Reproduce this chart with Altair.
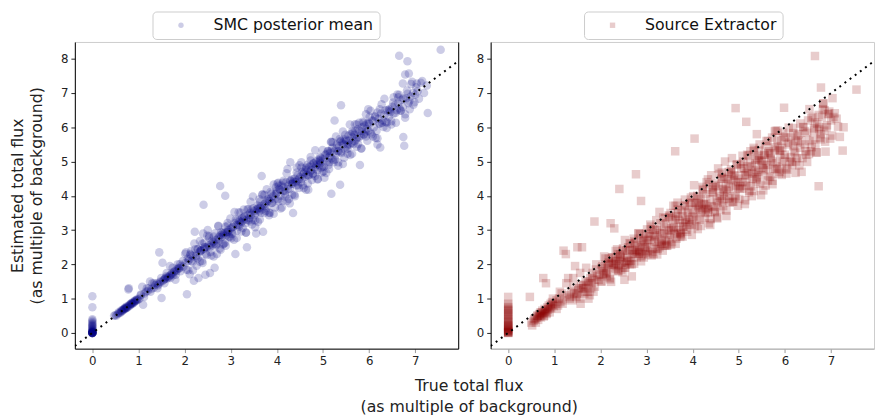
import altair as alt
import pandas as pd

# ---- data (true flux, SMC estimate, SExtractor estimate) ----
true_zero = [0.0, 0.0, 0.0, 0.0, 0.0, 0.0, 0.0, 0.0, 0.0, 0.0,
             0.0, 0.0, 0.0, 0.0, 0.0, 0.0, 0.0, 0.0, 0.0, 0.0,
             0.0, 0.0, 0.0, 0.0, 0.0, 0.0, 0.0, 0.0, 0.0, 0.0]
smc_zero = [0.0, 0.0, 0.0, 0.0, 0.0, 0.0, 0.01, 0.02, 0.03, 0.05,
            0.0, 0.02, 0.04, 0.06, 0.08, 0.1, 0.12, 0.15, 0.18, 0.2,
            0.22, 0.25, 0.28, 0.32, 0.36, 0.4, 0.0, 0.01, 0.75, 1.07]
sex_zero = [0.0, 0.0, 0.01, 0.02, 0.03, 0.05, 0.06, 0.08, 0.1, 0.12,
            0.15, 0.18, 0.2, 0.22, 0.25, 0.3, 0.33, 0.36, 0.4, 0.45,
            0.5, 0.54, 0.58, 0.62, 0.66, 0.7, 0.75, 0.8, 0.85, 1.05]

true_a = [0.47, 0.5, 0.52, 0.55, 0.57, 0.6, 0.62, 0.63, 0.65, 0.67,
          0.68, 0.7, 0.71, 0.72, 0.74, 0.75, 0.76, 0.78, 0.79, 0.8,
          0.82, 0.83, 0.85, 0.86, 0.88, 0.9, 0.92, 0.93, 0.95, 0.97,
          0.99, 0.58, 0.64, 0.69, 0.73, 0.77, 0.81, 0.84, 0.87, 0.91, 0.96]
smc_a = [0.5, 0.52, 0.5, 0.55, 0.6, 0.58, 0.65, 0.62, 0.67, 0.66,
         0.7, 0.72, 0.7, 0.75, 0.73, 0.78, 0.74, 1.27, 1.3, 0.82,
         0.8, 0.85, 0.87, 0.84, 0.9, 0.88, 0.93, 0.95, 0.94, 0.99,
         0.97, 0.58, 0.64, 0.7, 0.73, 0.76, 0.81, 0.85, 0.86, 0.9, 0.95]
sex_a = [1.05, 0.3, 0.22, 0.35, 0.4, 0.3, 0.45, 0.5, 0.38, 0.55,
         0.48, 0.6, 0.45, 0.52, 0.65, 0.58, 1.6, 0.5, 0.7, 0.62,
         1.45, 0.55, 0.75, 0.68, 0.8, 0.6, 0.85, 0.72, 0.9, 1.0,
         0.78, 0.42, 0.5, 0.55, 0.6, 0.48, 0.65, 0.58, 0.7, 0.75, 0.82]

true_b = [1.02, 1.05, 1.08, 1.1, 1.13, 1.16, 1.2, 1.22, 1.25, 1.28,
          1.3, 1.33, 1.36, 1.4, 1.42, 1.45, 1.47, 1.5, 1.52, 1.55,
          1.58, 1.6, 1.62, 1.65, 1.68, 1.7, 1.72, 1.75, 1.78, 1.8,
          1.83, 1.86, 1.9, 1.93, 1.97, 1.43, 1.48, 1.53, 1.57, 1.63,
          1.67, 1.73, 1.77, 1.82, 1.88]
smc_b = [1.0, 1.12, 1.35, 0.82, 1.15, 1.2, 1.22, 1.3, 1.5, 1.28,
         1.45, 1.32, 1.4, 1.45, 1.38, 2.35, 1.5, 1.02, 2.05, 1.55,
         1.6, 1.65, 1.58, 1.62, 1.95, 1.7, 1.75, 1.68, 1.8, 1.55,
         1.85, 1.9, 2.0, 1.95, 1.93, 1.42, 1.48, 1.52, 1.57, 1.63,
         1.66, 1.72, 1.78, 1.8, 1.88]
sex_b = [0.85, 0.95, 0.8, 1.0, 0.9, 1.15, 2.4, 0.95, 2.3, 1.1,
         1.6, 1.05, 1.2, 0.95, 1.35, 1.95, 1.1, 2.5, 1.25, 1.0,
         1.4, 2.5, 1.3, 1.15, 1.5, 1.35, 1.2, 1.45, 1.6, 1.3,
         1.75, 1.55, 1.85, 1.65, 1.7, 1.15, 1.05, 1.3, 0.85, 1.4,
         1.2, 1.5, 1.1, 1.6, 1.35]

true_c = [2.02, 2.05, 2.08, 2.1, 2.12, 2.15, 2.18, 2.2, 2.22, 2.25,
          2.28, 2.3, 2.32, 2.35, 2.38, 2.4, 2.42, 2.45, 2.48, 2.5,
          2.52, 2.55, 2.58, 2.6, 2.62, 2.65, 2.68, 2.7, 2.72, 2.75,
          2.78, 2.8, 2.82, 2.85, 2.88, 2.9, 2.92, 2.95, 2.97, 1.87,
          2.24, 2.34, 2.44, 2.54, 2.64, 2.74, 2.84, 2.94]
smc_c = [2.05, 1.13, 2.1, 2.15, 2.3, 2.1, 2.25, 1.52, 2.95, 2.25,
         2.45, 1.6, 2.35, 2.4, 2.6, 2.9, 2.45, 1.7, 2.5, 3.0,
         2.55, 1.75, 2.6, 2.55, 2.65, 1.9, 2.7, 2.3, 2.75, 2.7,
         2.85, 2.8, 2.9, 2.6, 3.1, 2.85, 2.95, 3.0, 2.9, 1.88,
         2.2, 2.4, 2.5, 2.5, 2.6, 2.8, 2.85, 2.95]
sex_c = [1.9, 1.7, 1.8, 2.0, 1.75, 1.9, 2.05, 1.6, 3.2, 2.2,
         1.85, 3.05, 2.1, 1.95, 2.3, 2.0, 2.15, 1.85, 2.4, 2.1,
         1.55, 2.0, 2.25, 2.5, 2.1, 2.6, 1.65, 2.3, 2.75, 2.4,
         2.2, 2.55, 2.9, 2.35, 2.5, 2.65, 2.3, 2.7, 2.45, 3.25,
         2.0, 2.1, 2.2, 1.9, 2.0, 2.3, 2.4, 2.2]

true_d = [3.0, 3.02, 3.05, 3.08, 3.1, 3.12, 3.15, 3.18, 3.2, 3.22,
          3.25, 3.28, 3.3, 3.32, 3.35, 3.38, 3.4, 3.42, 3.45, 3.48,
          3.5, 3.52, 3.55, 3.58, 3.6, 3.62, 3.65, 3.68, 3.7, 3.72,
          3.75, 3.78, 3.8, 3.82, 3.85, 3.88, 3.9, 3.92, 3.95, 3.98,
          2.41, 2.77, 2.88, 3.16, 3.24, 3.34, 3.44, 3.54, 3.64, 3.74, 3.84]
smc_d = [3.05, 2.95, 3.1, 3.2, 2.3, 3.15, 3.3, 3.1, 3.25, 3.2,
         3.35, 3.3, 3.4, 3.2, 2.5, 3.45, 3.35, 3.5, 3.6, 3.3,
         3.55, 3.45, 2.9, 3.6, 3.65, 3.55, 3.7, 3.6, 2.95, 3.75,
         3.8, 3.65, 3.85, 3.9, 3.5, 3.95, 3.8, 4.0, 3.9, 4.05,
         3.74, 4.29, 4.0, 3.15, 3.25, 3.3, 3.45, 3.5, 3.65, 3.7, 3.85]
sex_d = [2.6, 2.4, 2.9, 2.5, 3.1, 2.7, 2.3, 2.85, 2.45, 3.0,
         2.75, 2.5, 3.2, 2.6, 2.4, 2.9, 3.35, 2.7, 2.55, 3.0,
         2.8, 3.5, 2.65, 3.1, 2.9, 3.3, 2.75, 3.6, 3.0, 3.2,
         2.85, 3.4, 3.1, 3.7, 3.25, 2.95, 3.5, 3.3, 3.8, 3.15,
         4.2, 4.63, 3.85, 2.8, 2.45, 2.95, 2.6, 3.05, 3.4, 2.9, 3.3]

true_e = [4.0, 4.02, 4.05, 4.08, 4.1, 4.12, 4.15, 4.18, 4.2, 4.22,
          4.25, 4.28, 4.3, 4.32, 4.35, 4.38, 4.4, 4.42, 4.45, 4.48,
          4.5, 4.52, 4.55, 4.58, 4.6, 4.62, 4.65, 4.68, 4.7, 4.72,
          4.75, 4.78, 4.8, 4.82, 4.85, 4.88, 4.9, 4.92, 4.95, 4.98,
          4.29, 4.67, 3.67, 4.04, 3.62, 4.14, 4.24, 4.34, 4.44, 4.54,
          4.64, 4.74, 4.84, 4.94]
smc_e = [4.1, 3.9, 4.2, 4.0, 4.3, 3.85, 4.25, 4.15, 4.4, 3.85,
         4.3, 4.2, 4.45, 4.35, 3.5, 4.5, 4.4, 4.3, 4.6, 4.5,
         4.55, 4.4, 4.7, 4.65, 4.55, 4.75, 4.8, 4.6, 4.85, 4.7,
         4.9, 4.65, 4.95, 4.8, 5.0, 4.75, 5.05, 4.9, 5.1, 4.85,
         4.98, 4.36, 4.58, 4.3, 3.9, 4.15, 4.2, 4.35, 4.45, 4.5,
         4.6, 4.75, 4.85, 4.95]
sex_e = [3.6, 3.4, 3.8, 3.5, 4.0, 3.7, 3.3, 3.9, 3.6, 4.2,
         3.75, 3.5, 4.4, 3.65, 3.2, 3.9, 4.6, 3.7, 4.1, 3.55,
         4.3, 3.85, 4.8, 4.0, 3.6, 4.5, 4.2, 3.9, 5.0, 4.35,
         4.0, 4.7, 3.8, 4.45, 5.1, 4.2, 4.6, 3.95, 4.9, 4.4,
         4.05, 4.1, 3.8, 5.67, 5.3, 3.65, 3.75, 3.6, 4.25, 3.8,
         4.55, 4.15, 4.65, 4.3]

true_f = [5.0, 5.02, 5.05, 5.08, 5.1, 5.12, 5.15, 5.18, 5.2, 5.22,
          5.25, 5.28, 5.3, 5.32, 5.35, 5.38, 5.4, 5.42, 5.45, 5.48,
          5.5, 5.52, 5.55, 5.58, 5.6, 5.62, 5.65, 5.68, 5.7, 5.72,
          5.75, 5.78, 5.8, 5.82, 5.85, 5.88, 5.9, 5.92, 5.95, 5.98,
          5.18, 5.37, 5.39, 4.93, 5.16, 5.14, 5.24, 5.34, 5.44, 5.54,
          5.64, 5.74, 5.84, 5.94]
smc_f = [5.1, 4.85, 5.2, 5.0, 5.3, 4.9, 5.25, 5.1, 5.4, 5.05,
         6.2, 5.2, 5.5, 5.3, 5.45, 5.6, 5.25, 5.55, 5.65, 5.35,
         5.6, 5.45, 5.75, 5.5, 5.8, 5.55, 5.85, 5.6, 5.9, 5.65,
         5.95, 5.7, 4.9, 5.75, 6.0, 5.8, 6.05, 5.85, 6.1, 5.9,
         4.06, 4.32, 6.64, 5.0, 5.3, 5.15, 5.3, 5.3, 5.5, 5.5,
         5.7, 5.7, 5.9, 5.95]
sex_f = [4.5, 4.2, 4.8, 4.4, 5.0, 4.6, 4.3, 5.2, 4.7, 4.1,
         5.3, 4.85, 4.5, 5.4, 4.9, 4.4, 5.1, 4.7, 5.5, 4.6,
         5.0, 4.8, 5.2, 4.3, 5.6, 4.9, 5.3, 4.55, 5.1, 5.7,
         4.8, 5.35, 5.9, 4.95, 5.45, 4.7, 5.2, 5.6, 5.0, 6.57,
         4.4, 4.75, 5.8, 6.56, 6.16, 4.6, 4.95, 4.65, 5.05, 4.75,
         5.25, 5.0, 5.9, 5.4]

true_g = [6.0, 6.03, 6.06, 6.1, 6.13, 6.16, 6.2, 6.23, 6.26, 6.3,
          6.33, 6.36, 6.4, 6.43, 6.46, 6.5, 6.53, 6.56, 6.6, 6.63,
          6.66, 6.7, 6.73, 6.76, 6.8, 6.85, 6.9, 6.95, 7.0, 7.05,
          7.12, 7.19, 7.25, 7.27, 7.55, 6.65, 6.83, 6.78, 6.86, 6.24,
          6.74, 6.18, 7.03]
smc_g = [6.1, 5.85, 6.2, 6.0, 6.3, 5.9, 6.25, 6.1, 6.4, 6.2,
         6.35, 6.15, 6.5, 6.3, 6.45, 6.6, 6.4, 6.65, 6.5, 6.7,
         6.55, 6.8, 6.6, 5.46, 6.85, 6.7, 6.9, 7.0, 6.95, 7.05,
         7.3, 7.0, 7.22, 6.42, 8.26, 8.09, 7.93, 7.54, 7.57, 5.41,
         5.72, 5.5, 7.28]
sex_g = [5.2, 4.8, 5.5, 5.0, 5.7, 4.9, 5.3, 5.6, 5.1, 5.8,
         5.4, 4.7, 6.0, 5.5, 5.2, 6.2, 5.6, 5.3, 6.3, 5.9,
         5.5, 6.1, 4.28, 5.7, 6.3, 5.9, 6.0, 6.4, 6.2, 6.3,
         6.25, 5.72, 5.32, 6.0, 7.1, 8.08, 6.7, 7.16, 6.5, 5.0,
         5.95, 5.45, 6.85]

# sources lying further from the diagonal (the halo around the dense band)
true_hb = [1.05, 1.12, 1.18, 1.26, 1.34, 1.41, 1.49, 1.56, 1.61, 1.69,
           1.74, 1.81, 1.85, 1.91, 1.96]
smc_hb = [1.1, 1.05, 1.3, 1.2, 1.45, 1.3, 1.6, 1.45, 1.75, 1.6,
          1.9, 1.7, 2.0, 1.8, 2.1]
sex_hb = [0.7, 1.2, 0.85, 1.45, 1.0, 1.6, 1.15, 1.75, 1.3, 1.9,
          1.0, 1.45, 1.2, 2.0, 1.55]

true_hc = [2.01, 2.04, 2.07, 2.11, 2.14, 2.17, 2.21, 2.26, 2.29, 2.33,
           2.36, 2.39, 2.43, 2.46, 2.49, 2.53, 2.56, 2.59, 2.63, 2.66,
           2.69, 2.73, 2.76, 2.79, 2.83, 2.86, 2.89, 2.93, 2.96, 2.99]
smc_hc = [2.31, 1.84, 2.17, 1.71, 2.39, 2.07, 2.61, 1.96, 2.44, 2.08,
          2.41, 2.04, 2.63, 2.31, 2.84, 2.83, 2.36, 2.69, 2.23, 2.91,
          2.59, 3.13, 2.46, 2.94, 2.58, 2.91, 2.54, 3.13, 2.81, 3.34]
sex_hc = [1.5, 1.95, 1.74, 2.17, 1.65, 1.98, 1.56, 2.21, 1.99, 1.88,
          2.44, 1.81, 2.23, 2.05, 2.47, 1.9, 2.41, 2.19, 2.62, 2.1,
          2.43, 2.02, 2.64, 2.43, 2.31, 2.88, 2.24, 2.67, 2.49, 2.9]

true_hd = [3.01, 3.04, 3.07, 3.11, 3.14, 3.17, 3.21, 3.26, 3.29, 3.33,
           3.36, 3.39, 3.43, 3.46, 3.49, 3.53, 3.56, 3.59, 3.63, 3.66,
           3.69, 3.73, 3.76, 3.79, 3.83, 3.86, 3.89, 3.93, 3.96, 3.99]
smc_hd = [2.76, 3.09, 2.72, 3.31, 2.99, 3.52, 3.51, 3.06, 3.39, 2.93,
          3.61, 3.29, 3.83, 3.16, 3.64, 3.28, 3.61, 3.24, 3.83, 3.51,
          4.04, 4.03, 3.56, 3.89, 3.43, 4.11, 3.79, 4.33, 3.66, 4.14]
sex_hd = [3.02, 2.29, 2.82, 2.26, 3.03, 2.66, 3.29, 2.54, 2.91, 2.7,
          3.37, 2.55, 3.18, 2.86, 3.39, 2.57, 3.35, 3.07, 3.71, 2.88,
          3.31, 2.8, 3.57, 3.1, 3.73, 3.01, 3.53, 3.17, 3.95, 3.37]

true_he = [4.01, 4.04, 4.07, 4.11, 4.14, 4.17, 4.21, 4.26, 4.29, 4.33,
           4.36, 4.39, 4.43, 4.46, 4.49, 4.53, 4.56, 4.59, 4.63, 4.66,
           4.69, 4.73, 4.76, 4.79, 4.83, 4.86, 4.89, 4.93, 4.96, 4.99]
smc_he = [4.36, 3.84, 4.17, 3.66, 4.44, 4.07, 4.66, 3.91, 4.44, 4.03,
          4.41, 3.99, 4.68, 4.31, 4.89, 4.83, 4.31, 4.69, 4.18, 4.91,
          4.59, 5.13, 4.46, 4.94, 4.58, 4.91, 4.49, 5.13, 4.81, 5.34]
sex_he = [3.99, 3.11, 3.74, 3.03, 3.95, 3.53, 4.26, 3.36, 3.78, 3.52,
          4.34, 3.32, 4.1, 3.68, 4.36, 3.34, 4.27, 3.94, 4.68, 3.7,
          4.18, 3.57, 4.49, 3.92, 4.7, 3.83, 4.45, 3.99, 4.92, 4.24]

true_hf = [5.01, 5.04, 5.07, 5.11, 5.14, 5.17, 5.21, 5.26, 5.29, 5.33,
           5.36, 5.39, 5.43, 5.46, 5.49, 5.53, 5.56, 5.59, 5.63, 5.66,
           5.69, 5.73, 5.76, 5.79, 5.83, 5.86, 5.89, 5.93, 5.96, 5.99]
smc_hf = [4.71, 5.09, 4.67, 5.31, 4.99, 5.57, 5.56, 5.06, 5.39, 4.88,
          5.66, 5.29, 5.88, 5.11, 5.64, 5.23, 5.61, 5.19, 5.88, 5.51,
          6.09, 6.08, 5.51, 5.89, 5.38, 6.16, 5.79, 6.38, 5.61, 6.14]
sex_hf = [3.91, 4.93, 4.21, 4.8, 3.87, 4.65, 5.18, 4.28, 4.65, 4.14,
          5.06, 4.54, 5.32, 4.35, 5.03, 4.16, 5.19, 4.81, 5.6, 4.57,
          5.05, 4.44, 5.41, 4.79, 5.62, 4.65, 5.32, 4.86, 5.84, 5.11]

true_hg = [6.01, 6.05, 6.09, 6.14, 6.18, 6.22, 6.27, 6.31, 6.35, 6.39,
           6.44, 6.48, 6.52, 6.57, 6.61, 6.65, 6.69, 6.74, 6.78, 6.82,
           6.87, 6.91, 6.96, 7.02, 7.08, 7.15]
smc_hg = [6.31, 5.8, 6.19, 5.69, 6.43, 6.12, 6.67, 6.01, 6.5, 6.14,
          6.49, 6.08, 6.72, 6.42, 6.96, 6.95, 6.49, 6.84, 6.38, 7.07,
          6.77, 7.26, 6.66, 7.17, 6.83, 7.35]
sex_hg = [5.73, 4.76, 5.55, 4.99, 5.98, 5.26, 5.75, 4.89, 5.62, 6.01,
          5.3, 5.84, 5.22, 6.27, 5.65, 6.14, 5.27, 6.01, 5.65, 6.53,
          5.58, 6.06, 6.46, 5.76, 6.41, 6.02]

# outer halo: the widest scatter seen in both panels
true_oc = [2.03, 2.08, 2.13, 2.18, 2.23, 2.28, 2.33, 2.38, 2.43, 2.48,
           2.53, 2.58, 2.63, 2.68, 2.73, 2.78, 2.83, 2.88, 2.93, 2.98]
smc_oc = [2.35, 1.83, 2.27, 1.83, 2.44, 2.18, 2.68, 2.1, 2.5, 2.27,
          2.78, 2.26, 2.81, 2.54, 3.11, 2.43, 2.93, 2.63, 3.21, 2.8]
sex_oc = [1.5, 2.23, 1.73, 2.17, 1.49, 2.04, 2.39, 1.8, 2.29, 1.77,
          2.71, 2.06, 2.41, 2.0, 2.68, 2.36, 2.91, 2.09, 2.76, 2.35]

true_od = [3.03, 3.08, 3.13, 3.18, 3.23, 3.28, 3.33, 3.38, 3.43, 3.48,
           3.53, 3.58, 3.63, 3.68, 3.73, 3.78, 3.83, 3.88, 3.93, 3.98]
smc_od = [2.89, 3.53, 2.77, 3.27, 2.96, 3.6, 2.92, 3.61, 3.25, 3.98,
          3.08, 3.72, 3.31, 4.04, 3.5, 4.19, 3.51, 4.06, 3.48, 4.25]
sex_od = [2.72, 3.16, 2.36, 3.01, 2.29, 3.53, 2.66, 3.1, 2.54, 3.43,
          2.99, 3.71, 2.6, 3.48, 2.93, 2.81, 3.89, 3.22, 3.78, 2.86]

true_oe = [4.03, 4.08, 4.13, 4.18, 4.23, 4.28, 4.33, 4.38, 4.43, 4.48,
           4.53, 4.58, 4.63, 4.68, 4.73, 4.78, 4.83, 4.88, 4.93, 4.98]
smc_oe = [4.38, 3.63, 4.38, 3.98, 4.78, 3.78, 4.48, 4.03, 4.83, 4.23,
          4.98, 4.23, 4.83, 4.18, 5.03, 4.63, 5.33, 4.48, 5.03, 4.68]
sex_oe = [4.31, 3.27, 3.78, 3.12, 4.16, 3.62, 4.48, 3.15, 4.18, 3.52,
          3.37, 4.64, 3.84, 4.5, 3.41, 4.26, 4.77, 3.82, 4.58, 3.71]

true_of = [5.03, 5.08, 5.13, 5.18, 5.23, 5.28, 5.33, 5.38, 5.43, 5.48,
           5.53, 5.58, 5.63, 5.68, 5.73, 5.78, 5.83, 5.88, 5.93, 5.98]
smc_of = [4.53, 5.23, 4.78, 5.58, 4.98, 5.73, 4.98, 5.58, 4.93, 5.78,
          5.38, 6.08, 5.23, 5.78, 5.43, 6.13, 5.38, 6.13, 5.73, 6.53]
sex_of = [4.28, 5.17, 3.76, 4.86, 4.15, 3.99, 5.34, 4.48, 5.17, 4.02,
          4.91, 5.45, 4.45, 5.24, 4.34, 5.88, 4.77, 5.32, 4.61, 5.7]

true_og = [6.03, 6.08, 6.13, 6.18, 6.23, 6.28, 6.33, 6.38, 6.43, 6.48,
           6.53, 6.58, 6.63, 6.68, 6.73, 6.78, 6.83, 6.88, 6.93, 6.98]
smc_og = [6.48, 5.73, 6.33, 5.68, 6.53, 6.13, 6.83, 5.98, 6.53, 6.18,
          6.88, 6.13, 6.88, 6.48, 7.28, 6.28, 6.98, 6.53, 7.33, 6.73]
sex_og = [4.65, 5.99, 5.13, 5.83, 4.67, 5.56, 6.11, 5.1, 5.89, 4.99,
          6.53, 5.42, 5.97, 5.26, 6.36, 5.8, 6.69, 5.29, 6.38, 5.67]

x_ticks = [0, 1, 2, 3, 4, 5, 6, 7]
y_ticks = [0, 1, 2, 3, 4, 5, 6, 7, 8]
x_domain = [-0.38, 7.93]
y_domain = [-0.46, 8.49]

true_flux = (true_zero + true_a + true_b + true_c + true_d + true_e + true_f + true_g
             + true_hb + true_hc + true_hd + true_he + true_hf + true_hg
             + true_oc + true_od + true_oe + true_of + true_og)
smc_est = (smc_zero + smc_a + smc_b + smc_c + smc_d + smc_e + smc_f + smc_g
           + smc_hb + smc_hc + smc_hd + smc_he + smc_hf + smc_hg
           + smc_oc + smc_od + smc_oe + smc_of + smc_og)
sex_est = (sex_zero + sex_a + sex_b + sex_c + sex_d + sex_e + sex_f + sex_g
           + sex_hb + sex_hc + sex_hd + sex_he + sex_hf + sex_hg
           + sex_oc + sex_od + sex_oe + sex_of + sex_og)

df = pd.DataFrame({"true": true_flux, "smc": smc_est, "sex": sex_est})
line_df = pd.DataFrame({"x": x_domain, "y": x_domain})

FONT = "DejaVu Sans"
xs = alt.Scale(domain=x_domain, nice=False, zero=False)
ys = alt.Scale(domain=y_domain, nice=False, zero=False)

Y_AXIS_KW = dict(values=y_ticks, grid=False, labelFontSize=12, labelFont=FONT,
                 labelColor="#222222", tickSize=4, tickColor="#222222",
                 labelPadding=3, domainColor="#000000")


def panel(field, label, color, shape, legend_x, domain_color, y_title):
    data = df.assign(series=label)
    if y_title:
        yaxis = alt.Axis(title=y_title, titleFontSize=16, titleFont=FONT,
                         titleFontWeight="normal", titleColor="#222222",
                         titlePadding=16, titleLineHeight=20, **Y_AXIS_KW)
    else:
        yaxis = alt.Axis(title=None, **Y_AXIS_KW)
    pts = alt.Chart(data).mark_point(
        filled=True, shape=shape, size=75, opacity=0.2, strokeWidth=0
    ).encode(
        x=alt.X("true:Q", scale=xs,
                axis=alt.Axis(values=x_ticks, grid=False, title=None, labelFontSize=12,
                              labelFont=FONT, labelColor="#222222", tickSize=4,
                              tickColor="#999999", labelPadding=3,
                              domainColor=domain_color)),
        y=alt.Y(field + ":Q", scale=ys, axis=yaxis),
        color=alt.Color("series:N", scale=alt.Scale(domain=[label], range=[color]),
                        legend=alt.Legend(title=None, orient="none", legendX=legend_x,
                                          legendY=-31, symbolType=shape, symbolSize=30,
                                          symbolOpacity=0.2, symbolStrokeWidth=0,
                                          labelFontSize=16, labelFont=FONT,
                                          labelColor="#111111", labelLimit=400,
                                          padding=6, strokeColor="#cccccc",
                                          cornerRadius=4, fillColor="#ffffff",
                                          symbolOffset=15, labelOffset=25)),
    )
    return pts


left_pts = panel("smc", "SMC posterior mean", "#000080", "circle", 79, "#000000",
                 ["Estimated total flux", "(as multiple of background)"])
right_pts = panel("sex", "Source Extractor", "#8b0000", "square", 95, "#aaaaaa", None)

line_left = alt.Chart(line_df).mark_line(
    color="black", strokeDash=[2, 4.5], strokeWidth=2, clip=True
).encode(
    x=alt.X("x:Q", scale=xs),
    y=alt.Y("y:Q", scale=ys, axis=alt.Axis(orient="right", labels=False, ticks=False,
                                          title=None, grid=False, domainColor="#000000")),
)
line_right = alt.Chart(line_df).mark_line(
    color="black", strokeDash=[2, 4.5], strokeWidth=2, clip=True
).encode(
    x=alt.X("x:Q", scale=xs),
    y=alt.Y("y:Q", scale=ys, axis=alt.Axis(title=None, **Y_AXIS_KW)),
)

left = alt.layer(left_pts, line_left).resolve_scale(y="independent").properties(width=390, height=312)
right = alt.layer(right_pts, line_right).properties(width=390, height=312)

chart = alt.hconcat(left, right, spacing=16).resolve_scale(
    color="independent"
).resolve_legend(color="independent").properties(
    padding={"top": -1, "left": 0, "right": 0, "bottom": 0},
    title=alt.TitleParams(
        text=["True total flux", "(as multiple of background)"],
        orient="bottom", anchor="middle", fontSize=16, font=FONT,
        fontWeight="normal", color="#222222", lineHeight=21, offset=12, dx=28,
    ),
).configure_view(stroke="#cccccc")

chart.save("out.html", embed_options={"renderer": "svg", "actions": False})
